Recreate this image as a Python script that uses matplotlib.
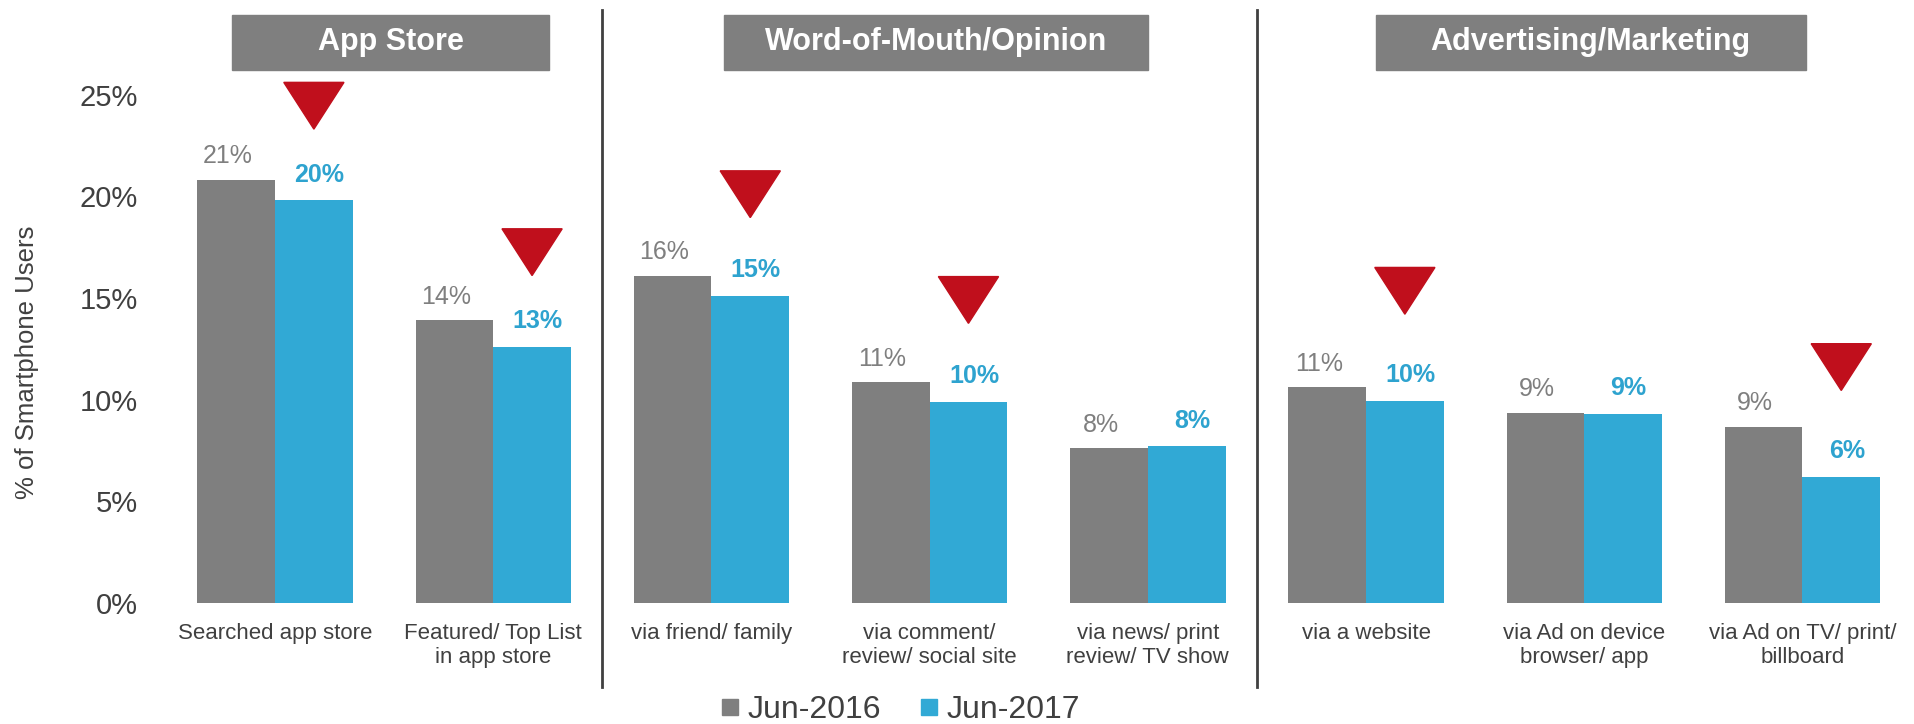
import matplotlib.pyplot as plt
import numpy as np
from matplotlib.lines import Line2D
from matplotlib.patches import Polygon, Rectangle
from matplotlib.transforms import blended_transform_factory

plt.rcParams['font.family'] = 'Liberation Sans'

# Share of smartphone users discovering apps through each channel (%)
categories = [
    "Searched app store", "Featured/ Top List\nin app store",
    "via friend/ family", "via comment/\nreview/ social site", "via news/ print\nreview/ TV show",
    "via a website", "via Ad on device\nbrowser/ app", "via Ad on TV/ print/\nbillboard",
]
jun_2016 = [20.8, 13.9, 16.1, 10.85, 7.6, 10.6, 9.35, 8.65]
jun_2017 = [19.8, 12.6, 15.1, 9.9, 7.7, 9.95, 9.3, 6.2]
series_labels = ["Jun-2016", "Jun-2017"]
group_names = ["App Store", "Word-of-Mouth/Opinion", "Advertising/Marketing"]
group_sizes = [2, 3, 3]
y_ticks = [0, 5, 10, 15, 20, 25]

GRAY = '#7f7f7f'
BLUE = '#31a9d5'
BLUE_TEXT = '#2ea3cf'
RED = '#c00f1c'
DARK = '#404040'

fig = plt.figure(figsize=(19.14, 7.24), dpi=100)
ax = fig.add_axes([0.0867, 0.1671, 0.9120, 0.8287])

x = np.arange(len(categories))
width = 0.356
ax.bar(x - width / 2, jun_2016, width, color=GRAY)
ax.bar(x + width / 2, jun_2017, width, color=BLUE)

# value labels above each bar
for xi, v16, v17 in zip(x, jun_2016, jun_2017):
    ax.annotate(f"{v16:.0f}%", (xi - width / 2, v16), xytext=(-6, 12), textcoords='offset points',
                ha='center', va='baseline', fontsize=18, color=GRAY)
    ax.annotate(f"{v17:.0f}%", (xi + width / 2, v17), xytext=(4, 13.5), textcoords='offset points',
                ha='center', va='baseline', fontsize=18, color=BLUE_TEXT, fontweight='bold')

# red down-arrows where the rounded share dropped; lift grows a little per panel
group_of = np.repeat(np.arange(len(group_sizes)), group_sizes)
tri_half, tri_h = 0.138, 2.3
tri_lift = [3.5, 3.85, 4.25]
for xi, g, v16, v17 in zip(x, group_of, jun_2016, jun_2017):
    if round(v17) < round(v16):
        cx = xi + width / 2
        tip = v17 + tri_lift[g]
        ax.add_patch(Polygon([(cx - tri_half, tip + tri_h), (cx + tri_half, tip + tri_h), (cx, tip)],
                             closed=True, color=RED, clip_on=False))

ax.set_xlim(-0.5, len(categories) - 0.5)
ax.set_ylim(0, 29.5)
ax.set_yticks(y_ticks)
ax.set_yticklabels([f"{t}%" for t in y_ticks])
ax.set_xticks(x)
ax.set_xticklabels(categories, fontsize=16, color=DARK, linespacing=1.2)
ax.tick_params(axis='x', length=0, pad=14.5)
ax.tick_params(axis='y', length=0, pad=20, labelsize=21, labelcolor=DARK)
for spine in ax.spines.values():
    spine.set_visible(False)

# group headers and separators
trans = blended_transform_factory(ax.transData, fig.transFigure)
header_widths = [1.453, 1.943, 1.97]
start = 0
for name, size, hw in zip(group_names, group_sizes, header_widths):
    center = start + (size - 1) / 2 + 0.03
    ax.add_patch(Rectangle((center - hw / 2, 0.9037), hw, 0.076, transform=trans,
                           color=GRAY, clip_on=False))
    ax.text(center, 0.9417, name, transform=trans, ha='center', va='center',
            fontsize=22, fontweight='bold', color='white')
    if start > 0:
        ax.plot([start - 0.5, start - 0.5], [0.0515, 0.986], transform=trans,
                color=DARK, lw=2, clip_on=False)
    start += size

fig.text(27 / 1914, 1 - 362 / 724, "% of Smartphone Users", rotation=90,
         ha='center', va='center', fontsize=18.5, color=DARK)

handles = [Line2D([], [], marker='s', linestyle='', markersize=11.5, color=c) for c in (GRAY, BLUE)]
fig.legend(handles, series_labels, loc='center', bbox_to_anchor=(0.4697, 0.019), ncol=2,
           frameon=False, fontsize=23, handlelength=0.8, handletextpad=0.15, columnspacing=1.1,
           labelcolor=DARK, borderpad=0, borderaxespad=0)

fig.savefig('out.png', dpi=100)
